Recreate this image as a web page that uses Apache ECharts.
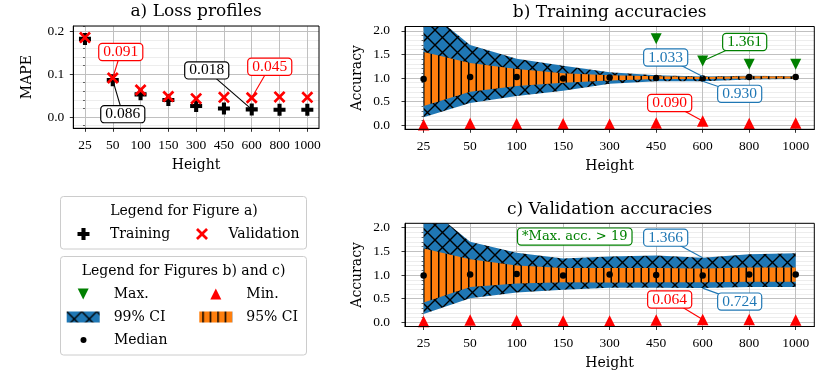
<!DOCTYPE html>
<html>
<head>
<meta charset="utf-8">
<script src="https://cdn.jsdelivr.net/npm/echarts@6/dist/echarts.min.js"></script>
<style>
	html,body{margin:0;padding:0;background:#fff;}
	#chart{width:830px;height:380px;}
</style>
</head>
<body>
<div id="chart"></div>
<script>
// ---- data ----
var heights = ["25","50","100","150","300","450","600","800","1000"];
var mapeTicks = [0, 0.1, 0.2];
var accTicks = [0, 0.5, 1, 1.5, 2];

// a) loss profiles (MAPE)
var lossTrain = [0.182,0.086,0.053,0.040,0.026,0.020,0.018,0.017,0.017];
var lossVal   = [0.185,0.091,0.063,0.048,0.043,0.046,0.045,0.047,0.046];

// b) training accuracies
var trMedian = [0.98,1.02,1.02,0.99,1.01,1.00,0.99,1.02,1.02];
var trLo99   = [0.17,0.47,0.62,0.73,0.88,0.93,0.930,0.97,0.98];
var trHi99   = [2.50,1.70,1.41,1.26,1.12,1.06,1.033,1.05,1.04];
var trLo95   = [0.41,0.71,0.83,0.90,0.95,0.98,0.98,0.99,0.99];
var trHi95   = [1.55,1.32,1.19,1.10,1.06,1.04,1.02,1.04,1.03];
var trMax    = [null,null,null,null,null,1.83,1.361,1.29,1.29];	// null: above the axis
var trMin    = [0.01,0.04,0.03,0.03,0.02,0.05,0.090,0.04,0.05];

// c) validation accuracies
var vaMedian = [0.99,1.01,1.02,0.99,1.01,1.00,0.99,1.01,1.01];
var vaLo99   = [0.18,0.51,0.63,0.69,0.73,0.73,0.724,0.75,0.75];
var vaHi99   = [2.50,1.70,1.47,1.35,1.39,1.41,1.366,1.44,1.46];
var vaLo95   = [0.42,0.75,0.82,0.845,0.84,0.85,0.85,0.86,0.86];
var vaHi95   = [1.56,1.33,1.20,1.15,1.15,1.15,1.14,1.16,1.16];
var vaMax    = [null,null,null,null,null,null,null,null,null];	// all > 19
var vaMin    = [0.02,0.05,0.04,0.03,0.03,0.05,0.064,0.06,0.05];

// ---- styling ----
var RED = "#ff0000", BLUE = "#1f77b4", ORANGE = "#ff7f0e", GREEN = "#008000";
var WORD = "DejaVu Serif", NUM = "Liberation Serif";
var PLUS = "path://M3.3,0H6.7V3.3H10V6.7H6.7V10H3.3V6.7H0V3.3H3.3Z";
var CROSS = "path://M1.6,0L5,3.4L8.4,0L10,1.6L6.6,5L10,8.4L8.4,10L5,6.6L1.6,10L0,8.4L3.4,5L0,1.6Z";
var TRI_UP = "path://M5,0L10,10L0,10Z";
var TRI_DOWN = "path://M0,0L10,0L5,10Z";

var panels = [
	{left:73.3, top:26, width:245.7, height:102.3, xPad:0.42, yMin:-0.026, yMax:0.212, ticks:mapeTicks, minorSplit:12, yName:"MAPE", yGap:39, labGap:9, title:"a) Loss profiles"},
	{left:405, top:26.5, width:409.3, height:102.8, xPad:0.4, yMin:-0.085, yMax:2.09, ticks:accTicks, minorSplit:20, yName:"Accuracy", yGap:41, labGap:15, title:"b) Training accuracies"},
	{left:405, top:223.3, width:409.3, height:103.2, xPad:0.4, yMin:-0.085, yMax:2.09, ticks:accTicks, minorSplit:20, yName:"Accuracy", yGap:41, labGap:15, title:"c) Validation accuracies"}
];

function hatch(kind){
	var c = document.createElement("canvas");
	c.width = 15; c.height = 15;
	var ctx = c.getContext("2d");
	ctx.fillStyle = kind=="x" ? BLUE : ORANGE;
	ctx.fillRect(0,0,15,15);
	ctx.strokeStyle = "#000";
	ctx.beginPath();
	if(kind=="x"){
		ctx.lineWidth = 1.4;
		for(var k=-1;k<=1;k++){
			ctx.moveTo(k*15,0); ctx.lineTo(k*15+15,15);
			ctx.moveTo(k*15+15,0); ctx.lineTo(k*15,15);
		}
	}else{
		ctx.lineWidth = 1.5;
		ctx.moveTo(3.75,0); ctx.lineTo(3.75,15);
		ctx.moveTo(11.25,0); ctx.lineTo(11.25,15);
	}
	ctx.stroke();
	return {image:c, repeat:"repeat"};
}
var HATCH99 = hatch("x"), HATCH95 = hatch("|");

var xIdx = heights.map(function(h,i){ return i; });
function pts(arr){
	var out = [];
	arr.forEach(function(v,i){ if(v!=null){ out.push([i,v]); } });
	return out;
}

// ---- grids and axes ----
var grids = [], xAxes = [], yAxes = [], minorAxes = [];
panels.forEach(function(p,g){
	grids.push({left:p.left, top:p.top, width:p.width, height:p.height, outerBoundsMode:"none", containLabel:false});
	xAxes.push({
		type:"value", gridIndex:g, min:-p.xPad, max:8+p.xPad,
		axisLine:{show:true, onZero:false, lineStyle:{color:"#000", width:1}},
		axisTick:{show:true, length:3.5, customValues:xIdx, lineStyle:{color:"#000", width:0.8}},
		axisLabel:{customValues:xIdx, margin:10, fontFamily:NUM, fontSize:13.5, color:"#000",
			formatter:function(v){ return heights[Math.round(v)]; }},
		splitLine:{show:true, lineStyle:{color:"#c0c0c0", width:1}},
		name:"Height", nameLocation:"middle", nameGap:30,
		nameTextStyle:{fontFamily:WORD, fontSize:14, color:"#000"}
	});
	yAxes.push({
		type:"value", gridIndex:g, position:"left", min:p.yMin, max:p.yMax, z:1,
		axisLine:{show:true, onZero:false, lineStyle:{color:"#000", width:1}},
		axisTick:{show:true, length:3.5, customValues:p.ticks, lineStyle:{color:"#000", width:0.8}},
		axisLabel:{customValues:p.ticks, margin:p.labGap, fontFamily:NUM, fontSize:13.5, color:"#000",
			formatter:function(v){ return v.toFixed(1); }},
		splitLine:{show:true, lineStyle:{color:"#c0c0c0", width:1}},
		name:p.yName, nameLocation:"middle", nameGap:p.yGap,
		nameTextStyle:{fontFamily:WORD, fontSize:14, color:"#000"}
	});
	// minor ticks + faint grid
	minorAxes.push({
		type:"value", gridIndex:g, position:"left", min:p.yMin, max:p.yMax, splitNumber:p.minorSplit, z:0,
		axisLine:{show:false},
		axisTick:{show:true, length:2, lineStyle:{color:"#000", width:0.6}},
		axisLabel:{show:false},
		splitLine:{show:true, lineStyle:{color:"#e8e8e8", width:0.8}}
	});
});
yAxes = yAxes.concat(minorAxes);

// ---- series ----
var series = [];
series.push({type:"scatter", name:"Training", xAxisIndex:0, yAxisIndex:0, data:pts(lossTrain),
	symbol:PLUS, symbolSize:12, itemStyle:{color:"#000", opacity:1}, z:3});
series.push({type:"scatter", name:"Validation", xAxisIndex:0, yAxisIndex:0, data:pts(lossVal),
	symbol:CROSS, symbolSize:12, itemStyle:{color:RED, opacity:1}, z:4});

// confidence band: one polygon through the lower edge and back along the upper edge
function band(g, lo, hi, pattern, name){
	series.push({type:"custom", name:name, xAxisIndex:g, yAxisIndex:g, clip:true, silent:true, z:2,
		data:lo.map(function(v,i){ return [i, v, hi[i]]; }),
		encode:{x:0, y:[1,2]},
		itemStyle:{color:pattern},
		renderItem:function(params, api){
			if(params.dataIndex !== 0){ return null; }
			var poly = [], i;
			for(i=0;i<lo.length;i++){ poly.push(api.coord([i, lo[i]])); }
			for(i=hi.length-1;i>=0;i--){ poly.push(api.coord([i, hi[i]])); }
			return {type:"polygon", shape:{points:poly}, style:{fill:pattern, stroke:null}};
		}
	});
}
function accPanel(g, med, lo99, hi99, lo95, hi95, mx, mn){
	band(g, lo99, hi99, HATCH99, "99% CI");
	band(g, lo95, hi95, HATCH95, "95% CI");
	series.push({type:"scatter", name:"Median", xAxisIndex:g, yAxisIndex:g, data:pts(med),
		symbol:"circle", symbolSize:6.5, itemStyle:{color:"#000", opacity:1}, z:5});
	series.push({type:"scatter", name:"Max.", xAxisIndex:g, yAxisIndex:g, data:pts(mx),
		symbol:TRI_DOWN, symbolSize:11, itemStyle:{color:GREEN, opacity:1}, z:5});
	series.push({type:"scatter", name:"Min.", xAxisIndex:g, yAxisIndex:g, data:pts(mn),
		symbol:TRI_UP, symbolSize:11.5, itemStyle:{color:RED, opacity:1}, z:5});
}
accPanel(1, trMedian, trLo99, trHi99, trLo95, trHi95, trMax, trMin);
accPanel(2, vaMedian, vaLo99, vaHi99, vaLo95, vaHi95, vaMax, vaMin);

// ---- legends ----
function legendOf(names, left, top, h, pad, w, extra){
	var l = {data:names, left:left, top:top, orient:"vertical", padding:0, itemWidth:33, itemHeight:h,
		itemGap:9, selectedMode:false,
		textStyle:{fontFamily:WORD, fontSize:14, color:"#000", lineHeight:14, padding:[0,0,0,pad], width:w}};
	if(extra){ for(var k in extra){ l[k] = extra[k]; } }
	return l;
}
var ciItem = function(name, pat){ return {name:name, icon:"rect", itemStyle:{color:pat, borderWidth:0}}; };
var legends = [
	legendOf(["Training","Validation"], 77.5, 227, 12, 5, 64, {orient:"horizontal", itemGap:22}),
	legendOf(["Max.", ciItem("99% CI", HATCH99)], 66.7, 287, 11, 9, 70),
	legendOf(["Min.", ciItem("95% CI", HATCH95)], 199.3, 287, 11, 9, 70),
	legendOf(["Median"], 80.5, 333, 6, 9, 70)
];

// annotation boxes: offsets of the box centre from the marked point, in px
var notes = [
	{g:0, x:1, y:lossVal[1],   color:RED,    dx:8,   dy:-26},
	{g:0, x:1, y:lossTrain[1], color:"#000", dx:10,  dy:34},
	{g:0, x:6, y:lossTrain[6], color:"#000", dx:-45, dy:-39},
	{g:0, x:6, y:lossVal[6],   color:RED,    dx:18,  dy:-31},
	{g:1, x:6, y:trHi99[6],    color:BLUE,   dx:-37, dy:-19},
	{g:1, x:6, y:trLo99[6],    color:BLUE,   dx:37,  dy:12.5},
	{g:1, x:6, y:trMax[6],     color:GREEN,  dx:42,  dy:-19},
	{g:1, x:6, y:trMin[6],     color:RED,    dx:-33, dy:-18},
	{g:2, x:6, y:vaHi99[6],    color:BLUE,   dx:-37, dy:-20},
	{g:2, x:6, y:vaLo99[6],    color:BLUE,   dx:37,  dy:13.5},
	{g:2, x:6, y:vaMin[6],     color:RED,    dx:-33, dy:-20}
];

var chart = echarts.init(document.getElementById("chart"), null, {renderer:"canvas"});
chart.setOption({
	animation:false,
	backgroundColor:"#fff",
	grid:grids,
	xAxis:xAxes,
	yAxis:yAxes,
	legend:legends,
	series:series
});

// ---- frames, titles, annotations ----
function px(g, x, y){ return chart.convertToPixel({xAxisIndex:g, yAxisIndex:g}, [x, y]); }
function centred(style){
	style.align = "center"; style.verticalAlign = "middle";
	style.textAlign = "center"; style.textVerticalAlign = "middle";
	return style;
}
function boxText(x, y, text, color, font){
	return {type:"text", x:x, y:y, z:60, style:centred({text:text, fill:color, font:font,
		backgroundColor:"#fff", borderColor:color, borderWidth:1.2, borderRadius:3,
		padding:[1,4], lineHeight:14})};
}
var els = [];
panels.forEach(function(p,g){
	var a = px(g, -p.xPad, p.yMax), b = px(g, 8+p.xPad, p.yMin);
	els.push({type:"rect", z:50, shape:{x:a[0], y:a[1], width:b[0]-a[0], height:b[1]-a[1]},
		style:{fill:null, stroke:"#000", lineWidth:1}});
	els.push({type:"text", x:(a[0]+b[0])/2, y:a[1]-14, z:50,
		style:centred({text:p.title, fill:"#000", font:"17px '"+WORD+"'"})});
});
notes.forEach(function(n){
	var p = px(n.g, n.x, n.y);
	var cx = p[0]+n.dx, cy = p[1]+n.dy;
	els.push({type:"line", z:55, shape:{x1:cx, y1:cy, x2:p[0], y2:p[1]}, style:{stroke:n.color, lineWidth:1.1}});
	els.push(boxText(cx, cy, n.y.toFixed(3), n.color, "15.5px '"+NUM+"'"));
});
var m = px(2, 3.25, 1.81);
els.push(boxText(m[0], m[1], "*Max. acc. > 19", GREEN, "13px '"+WORD+"'"));

// legend frames
els.push({type:"rect", z:0, shape:{x:60.5, y:196.5, width:246, height:52.5, r:3}, style:{fill:"#fff", stroke:"#cccccc", lineWidth:1}});
els.push({type:"rect", z:0, shape:{x:60.5, y:256.5, width:246, height:98.5, r:3}, style:{fill:"#fff", stroke:"#cccccc", lineWidth:1}});
els.push({type:"text", x:184, y:211, z:1, style:centred({text:"Legend for Figure a)", fill:"#000", font:"14px '"+WORD+"'"})});
els.push({type:"text", x:183.5, y:271, z:1, style:centred({text:"Legend for Figures b) and c)", fill:"#000", font:"14px '"+WORD+"'"})});

chart.setOption({graphic:{elements:els}});
</script>
</body>
</html>
